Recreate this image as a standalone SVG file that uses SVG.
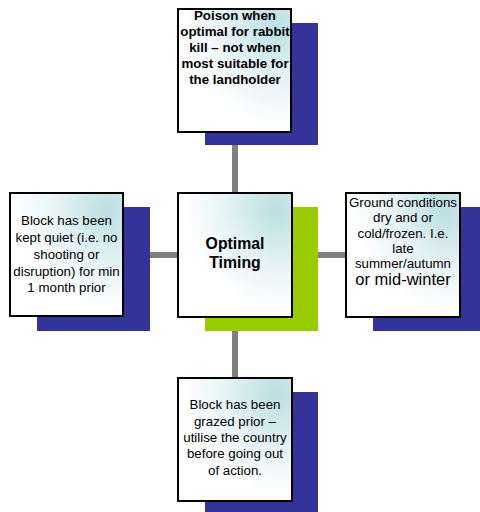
<svg xmlns="http://www.w3.org/2000/svg" width="480" height="512" viewBox="0 0 480 512">
<defs>
<radialGradient id="fillg" cx="1" cy="0" r="1.1" fx="0.85" fy="0.15">
<stop offset="0" stop-color="#bcdfe2"/>
<stop offset="0.45" stop-color="#e6f3f4"/>
<stop offset="0.85" stop-color="#ffffff"/>
</radialGradient>
</defs>
<style>
.box{fill:url(#fillg);stroke:#000;stroke-width:2}
.sh{fill:#333399}
.gr{fill:#99cc00}
.con{stroke:#808080;stroke-width:6;fill:none}
text{font-family:"Liberation Sans",Arial,sans-serif;fill:#000;text-anchor:middle}
.b{font-weight:bold}
</style>
<g id="connectors">
<line class="con" x1="235" y1="132" x2="235" y2="378"/>
<line class="con" x1="123" y1="255" x2="346" y2="255"/>
</g>
<g id="top">
<rect class="sh" x="205" y="23" width="113" height="122"/>
<rect class="box" x="178" y="9" width="113" height="123"/>
<text class="b" font-size="13.3"><tspan x="235" y="20">Poison when</tspan><tspan x="235" y="36">optimal for rabbit</tspan><tspan x="235" y="52">kill – not when</tspan><tspan x="235" y="68">most suitable for</tspan><tspan x="235" y="84">the landholder</tspan></text>
</g>
<g id="center">
<rect class="gr" x="205" y="207" width="113" height="124"/>
<rect class="box" x="178" y="193" width="114" height="124"/>
<text class="b" font-size="15.8"><tspan x="235" y="249">Optimal</tspan><tspan x="235" y="268">Timing</tspan></text>
</g>
<g id="left">
<rect class="sh" x="37" y="207" width="113" height="124"/>
<rect class="box" x="10" y="193" width="113" height="123"/>
<text font-size="13.3"><tspan x="66.5" y="225">Block has been</tspan><tspan x="66.5" y="242">kept quiet (i.e. no</tspan><tspan x="66.5" y="259">shooting or</tspan><tspan x="66.5" y="276">disruption) for min</tspan><tspan x="66.5" y="292">1 month prior</tspan></text>
</g>
<g id="right">
<rect class="sh" x="373" y="207" width="114" height="124"/>
<rect class="box" x="346" y="193" width="114" height="124"/>
<text font-size="13.3"><tspan x="403" y="207">Ground conditions</tspan><tspan x="403" y="222">dry and or</tspan><tspan x="403" y="238">cold/frozen. I.e.</tspan><tspan x="403" y="253">late</tspan><tspan x="403" y="268">summer/autumn</tspan><tspan x="403" y="285" font-size="16.5">or mid-winter</tspan></text>
</g>
<g id="bottom">
<rect class="sh" x="205" y="392" width="113" height="124"/>
<rect class="box" x="178" y="378" width="114" height="123"/>
<text font-size="13.3"><tspan x="235" y="409">Block has been</tspan><tspan x="235" y="426">grazed prior –</tspan><tspan x="235" y="442">utilise the country</tspan><tspan x="235" y="458">before going out</tspan><tspan x="235" y="475">of action.</tspan></text>
</g>
</svg>
